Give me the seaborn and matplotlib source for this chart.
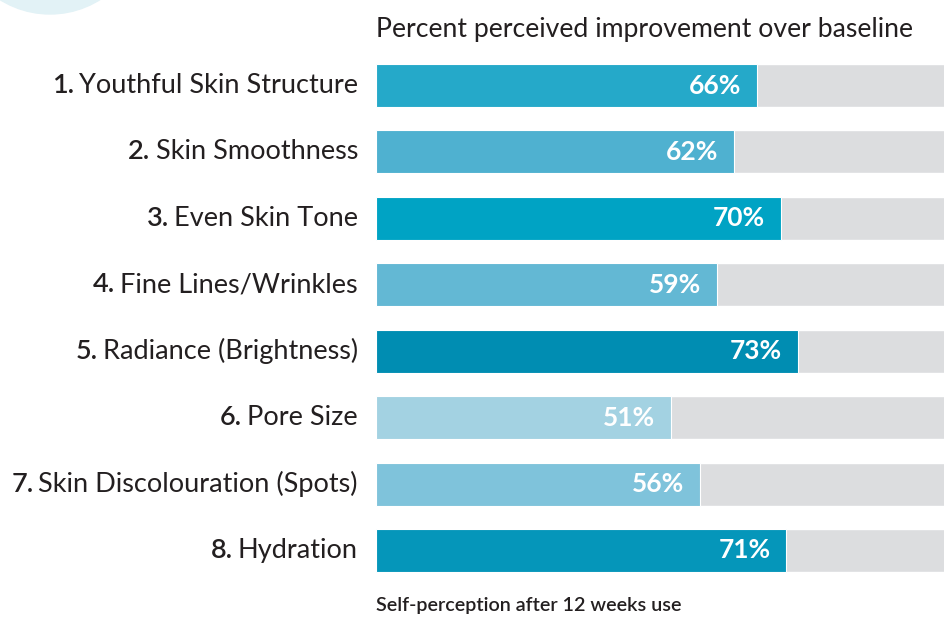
import matplotlib.pyplot as plt
import matplotlib.patches as mpatches
import seaborn as sns
import pandas as pd

sns.set_style("white")
plt.rcParams['font.family'] = ['Lato', 'DejaVu Sans']

numbers = ['1.', '2.', '3.', '4.', '5.', '6.', '7.', '8.']
names = ['Youthful Skin Structure', 'Skin Smoothness', 'Even Skin Tone',
         'Fine Lines/Wrinkles', 'Radiance (Brightness)', 'Pore Size',
         'Skin Discolouration (Spots)', 'Hydration']
values = [66, 62, 70, 59, 73, 51, 56, 71]
colors = ['#25a9c9', '#4fb1d0', '#00a3c4', '#63b8d4',
          '#008db2', '#a3d2e2', '#7fc3db', '#0596ba']

df = pd.DataFrame({'name': names, 'value': values, 'total': [100] * len(values)})

fig = plt.figure(figsize=(9.45, 6.17), dpi=100)
ax = fig.add_axes([376 / 945, 1 - 583.7 / 617, 578 / 945, (583.7 - 52.3) / 617])

# grey track behind each bar
sns.barplot(data=df, x='total', y='name', color='#dcdddf', width=0.647,
            orient='h', ax=ax, saturation=1)
sns.barplot(data=df, x='value', y='name', hue='name', palette=colors,
            width=0.647, orient='h', ax=ax, saturation=1, legend=False,
            edgecolor='white', linewidth=0.8)

ax.set_xlim(0, 100)
ax.set_xlabel('')
ax.set_ylabel('')
ax.set_xticks([])
ax.set_yticks([])
sns.despine(ax=ax, left=True, bottom=True)

for i, (num, name, v) in enumerate(zip(numbers, names, values)):
    ax.annotate(f'{v}%', xy=(v, i), xytext=(-16, 0), textcoords='offset pixels',
                ha='right', va='center', color='white', fontsize=19,
                fontweight='bold')
    t = ax.annotate(name, xy=(0, i), xycoords=('axes fraction', 'data'),
                    xytext=(-18, 0), textcoords='offset pixels',
                    ha='right', va='center', fontsize=19.5, color='#231f20')
    ax.annotate(num, xy=(0, 0), xycoords=t, xytext=(-5, 0),
                textcoords='offset pixels', ha='right', va='bottom',
                fontsize=19.5, color='#231f20', fontweight='semibold')

fig.text(376 / 945, 1 - 29 / 617, 'Percent perceived improvement over baseline',
         ha='left', va='center', fontsize=19.2, color='#231f20')
fig.text(376 / 945, 1 - 605 / 617, 'Self-perception after 12 weeks use',
         ha='left', va='center', fontsize=14.2, color='#231f20',
         fontweight='semibold')

# pale circle peeking in at the top-left corner
fig.add_artist(mpatches.Ellipse((50 / 945, 1 + 80 / 617), 2 * 94 / 945, 2 * 94 / 617,
                                transform=fig.transFigure, color='#e2f2f6', zorder=0))

fig.savefig('out.png', dpi=100)
